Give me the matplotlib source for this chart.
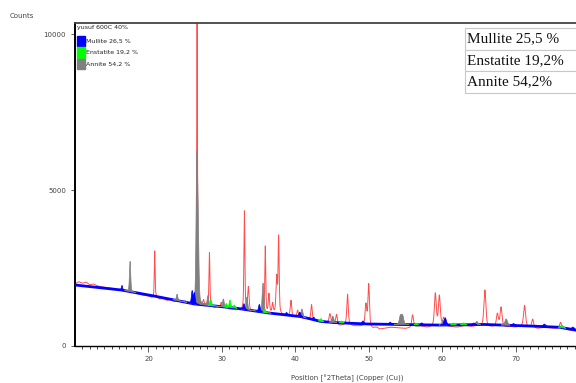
import numpy as np
import matplotlib
matplotlib.use("Agg")
import matplotlib.pyplot as plt
from matplotlib.patches import Rectangle

# ---------------- data ----------------
# observed background knots (2theta, counts)
obs_bg_x = [10, 10.5, 11, 11.5, 12, 12.5, 13, 14, 15, 16, 17, 18, 19, 20, 20.5, 21, 21.5, 22, 22.5, 23, 23.5, 24, 24.5, 25, 25.5, 26, 27, 28, 29,
            29.5, 30, 30.5, 31, 32, 33, 34, 35, 36, 37, 38, 39, 40, 40.5, 41, 41.5, 42, 43, 44, 45, 46, 47, 48, 49,
            50, 50.5, 51, 51.5, 52, 53, 54, 55, 56, 57, 58, 59, 60, 61, 62, 63, 64, 65, 66, 67, 68, 69,
            70, 71, 72, 73, 74, 75, 76, 77, 78.2]
obs_bg_y = [1990, 2060, 2010, 2050, 1960, 1990, 1930, 1880, 1850, 1790, 1760, 1700, 1640, 1600, 1540, 1580, 1500, 1520, 1460, 1490, 1420, 1450, 1400, 1440, 1370, 1380, 1330, 1290, 1220,
            1270, 1200, 1240, 1180, 1150, 1170, 1100, 1120, 1060, 1040, 1000, 980, 920, 960, 880, 900, 830, 800, 760, 720, 650, 680, 640, 630,
            610, 560, 600, 540, 560, 600, 580, 560, 600, 640, 590, 620, 640, 620, 600, 650, 620, 660, 600, 610, 590, 620,
            600, 630, 580, 560, 600, 570, 560, 520, 480]

# calculated background knots
calc_bg_x = [10, 16.3, 20.8, 26.3, 31.7, 36.3, 40.8, 43.4, 45.3, 49.9, 59.7, 65.7, 72, 76, 78.2]
calc_bg_y = [1955, 1795, 1600, 1345, 1220, 1060, 940, 790, 750, 705, 670, 690, 640, 600, 510]

# observed peaks: position, height above background, fwhm
obs_pos = [20.85, 26.62, 27.5, 28.3, 29.9, 33.06, 33.6, 35.9, 36.4, 36.9, 37.45, 37.72, 39.4, 40.3,
           42.2, 44.7, 45.6, 47.1, 49.6, 49.98, 55.95, 59.05, 59.6, 60.2, 65.8, 67.5, 68.0,
           71.2, 72.3, 76.1]
obs_h = [1480, 10600, 150, 1720, 180, 3150, 750, 2120, 600, 300, 1150, 2450, 500, 200,
         500, 300, 330, 980, 700, 1350, 400, 1050, 960, 250, 1180, 420, 640,
         680, 280, 200]
obs_w = [0.13, 0.11, 0.2, 0.15, 0.2, 0.15, 0.22, 0.15, 0.2, 0.2, 0.22, 0.17, 0.22, 0.2,
         0.22, 0.27, 0.27, 0.24, 0.27, 0.24, 0.27, 0.3, 0.3, 0.3, 0.32, 0.32, 0.32,
         0.32, 0.3, 0.3]

# phase contributions (above calculated background)
mullite_pos = [16.4, 25.95, 26.25, 33.0, 35.1, 38.8, 40.6, 42.5, 49.2, 52.9, 57.2, 60.4, 64.3, 69.7, 73.9, 77.8]
mullite_h = [150, 400, 350, 180, 230, 80, 140, 80, 90, 70, 60, 230, 50, 60, 80, 80]

enstatite_pos = [28.5, 30.6, 31.1, 31.7, 35.8, 43.5, 46.3, 56.5, 61.5, 62.9, 76.3]
enstatite_h = [200, 110, 240, 90, 100, 90, 60, 50, 60, 60, 80]

annite_pos = [17.5, 23.9, 26.58, 26.76, 28.1, 30.2, 33.4, 35.6, 40.9, 45.1, 54.3, 54.6, 60.1, 64.7, 68.7]
annite_h = [970, 200, 4300, 2300, 300, 250, 400, 930, 250, 200, 270, 270, 150, 100, 200]

legend_title = "yusuf 600C 40%"
legend_labels = ["Mullite 26,5 %", "Enstatite 19,2 %", "Annite 54,2 %"]
table_labels = ["Mullite 25,5 %", "Enstatite 19,2%", "Annite 54,2%"]
colors = ["#0000ff", "#00ff00", "#808080"]

xticks = [20, 30, 40, 50, 60, 70]
yticks = [0, 5000, 10000]

# ---------------- model ----------------
def pv(x, x0, h, w, eta=0.5):
    d = (x - x0) / w
    return h * (eta / (1 + 4 * d * d) + (1 - eta) * np.exp(-4 * np.log(2) * d * d))

x = np.arange(10, 78.2, 0.01)
obs = np.interp(x, obs_bg_x, obs_bg_y)
for p, h, w in zip(obs_pos, obs_h, obs_w):
    obs = obs + pv(x, p, h, w)
bg = np.interp(x, calc_bg_x, calc_bg_y)

def phase(pos, hs):
    out = np.zeros_like(x)
    for p, h in zip(pos, hs):
        w = 0.17 + 0.004 * (p - 10)
        out += pv(x, p, h, w, eta=0.3)
    return out

# ---------------- figure ----------------
W, H = 576, 383
fig = plt.figure(figsize=(W / 100, H / 100), dpi=100)
ax = fig.add_axes([75 / W, 37 / H, 1 - 75 / W, (346 - 23.3) / H])

ax.plot(x, obs, color="#ff2020", lw=0.7, alpha=0.8, zorder=2)
ax.plot(calc_bg_x, calc_bg_y, color="#0000ff", lw=2.0, zorder=3)
for pos, hs, c in [(annite_pos, annite_h, colors[2]),
                   (enstatite_pos, enstatite_h, colors[1]),
                   (mullite_pos, mullite_h, colors[0])]:
    ph = phase(pos, hs)
    ax.fill_between(x, bg, bg + ph, where=ph > 5, color=c, lw=0.5, zorder=4)

ax.set_xlim(10, 78.2)
ax.set_ylim(0, 10343)
ax.set_xticks(xticks)
ax.set_xticks(np.arange(11, 79, 1), minor=True)
ax.set_yticks(yticks)
ax.tick_params(axis="both", labelsize=5, colors="#444444", width=0.6)
ax.tick_params(axis="x", which="major", length=4)
ax.tick_params(axis="x", which="minor", length=2.5, width=0.5)
ax.tick_params(axis="y", length=3)
ax.spines["right"].set_visible(False)
ax.spines["left"].set_linewidth(1.4)
ax.spines["bottom"].set_linewidth(1.0)
ax.spines["top"].set_linewidth(1.3)
ax.spines["top"].set_color("#444444")

fig.text(10 / W, 1 - 16 / H, "Counts", fontsize=5, color="#444444", va="center")
fig.text(347 / W, 1 - 378 / H, "Position [°2Theta] (Copper (Cu))", fontsize=5,
         color="#444444", ha="center", va="center")

# legend (top-left)
fig.text(77 / W, 1 - 28 / H, legend_title, fontsize=4.5, va="center", color="#222222")
ys = [41, 52.5, 64]
for yy, lab, c in zip(ys, legend_labels, colors):
    fig.patches.append(Rectangle((77 / W, 1 - (yy + 5) / H), 8 / W, 10 / H,
                                 transform=fig.transFigure, color=c, figure=fig))
    fig.text(86 / W, 1 - yy / H, lab, fontsize=4.5, va="center", color="#222222")

# table (top-right)
row_top = [28, 49.5, 71]
for yt, lab in zip(row_top, table_labels):
    fig.patches.append(Rectangle((465 / W, 1 - (yt + 21.5) / H), 140 / W, 21.5 / H,
                                 transform=fig.transFigure, facecolor="white",
                                 edgecolor="#c8c8c8", lw=0.8, figure=fig, zorder=5))
    fig.text(467 / W, 1 - (yt + 11) / H, lab, fontsize=11, va="center",
             family="Liberation Serif", color="#111111", zorder=6)

fig.savefig("out.png", dpi=100)
